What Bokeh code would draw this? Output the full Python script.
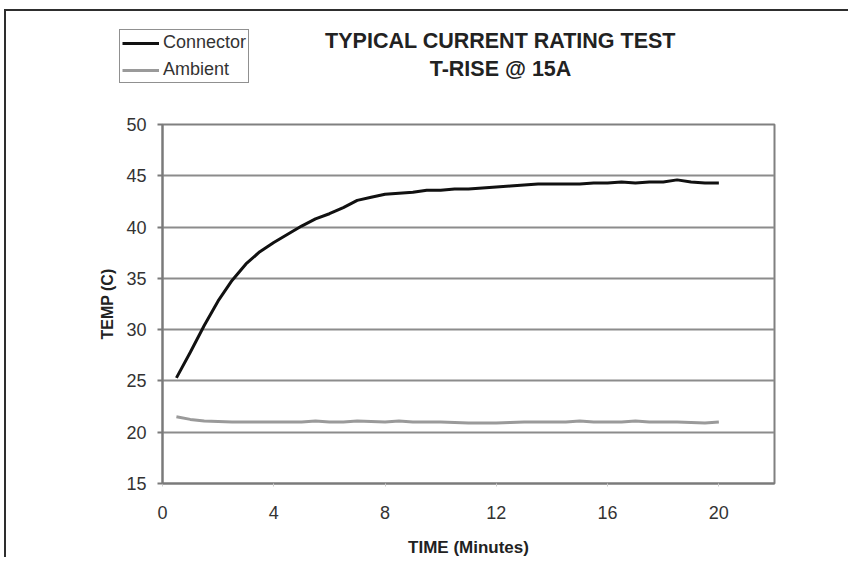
from bokeh.plotting import figure
from bokeh.layouts import column, row
from bokeh.models import FixedTicker, Legend, LegendItem, Label
from bokeh.embed import file_html
from bokeh.resources import INLINE

time_min = [0.5, 1.0, 1.5, 2.0, 2.5, 3.0, 3.5, 4.0, 4.5, 5.0,
            5.5, 6.0, 6.5, 7.0, 7.5, 8.0, 8.5, 9.0, 9.5, 10.0,
            10.5, 11.0, 11.5, 12.0, 12.5, 13.0, 13.5, 14.0, 14.5, 15.0,
            15.5, 16.0, 16.5, 17.0, 17.5, 18.0, 18.5, 19.0, 19.5, 20.0]

connector = [25.3, 27.8, 30.4, 32.8, 34.8, 36.4, 37.6, 38.5, 39.3, 40.1,
             40.8, 41.3, 41.9, 42.6, 42.9, 43.2, 43.3, 43.4, 43.6, 43.6,
             43.7, 43.7, 43.8, 43.9, 44.0, 44.1, 44.2, 44.2, 44.2, 44.2,
             44.3, 44.3, 44.4, 44.3, 44.4, 44.4, 44.6, 44.4, 44.3, 44.3]

ambient = [21.5, 21.25, 21.1, 21.05, 21.0, 21.0, 21.0, 21.0, 21.0, 21.0,
           21.1, 21.0, 21.0, 21.1, 21.05, 21.0, 21.1, 21.0, 21.0, 21.0,
           20.95, 20.9, 20.9, 20.9, 20.95, 21.0, 21.0, 21.0, 21.0, 21.1,
           21.0, 21.0, 21.0, 21.1, 21.0, 21.0, 21.0, 20.95, 20.9, 21.0]

series_names = ["Connector", "Ambient"]
series_colors = ["#111111", "#9a9a9a"]

x_ticks = [0, 4, 8, 12, 16, 20]
y_ticks = [15, 20, 25, 30, 35, 40, 45, 50]

title_line1 = "TYPICAL CURRENT RATING TEST"
title_line2 = "T-RISE @ 15A"

FONT = "Liberation Sans"
W = 844
NAN = float("nan")

# ---------------- header (legend + title), frame = whole header ----------------
head = figure(width=W, height=100, output_backend="svg", toolbar_location=None,
              title=None, x_range=(0, W), y_range=(0, 100),
              x_axis_location=None, y_axis_location=None,
              min_border=0, min_border_left=0, min_border_right=0,
              min_border_top=0, min_border_bottom=0,
              background_fill_color="white", border_fill_color="white")
head.outline_line_color = None
head.xgrid.visible = False
head.ygrid.visible = False

# legend keys only (nothing visible is drawn by them)
keys = [head.line(x=[NAN], y=[NAN], line_color=c, line_width=3) for c in series_colors]
legend = Legend(items=[LegendItem(label=n, renderers=[r]) for n, r in zip(series_names, keys)],
                location=(113, 28), orientation="vertical",
                padding=2, spacing=6, margin=0,
                glyph_width=37, glyph_height=20, label_height=20,
                label_standoff=4,
                label_text_font=FONT, label_text_font_size="18px",
                label_text_color="#333333",
                border_line_color="#222222", border_line_width=1.5,
                background_fill_color="white", background_fill_alpha=1.0)
head.add_layout(legend)

for txt, yy in ((title_line1, 70.5), (title_line2, 42.5)):
    head.add_layout(Label(x=494, y=yy, text=txt, text_align="center",
                          text_baseline="middle", text_font=FONT,
                          text_font_style="bold", text_font_size="21.5px",
                          text_color="#222222"))

# ---------------- main chart ----------------
p = figure(width=W, height=448, output_backend="svg", toolbar_location=None,
           title=None, x_range=(0, 22), y_range=(15, 50),
           min_border_left=156, min_border_right=W - 156 - 612,
           min_border_top=13, min_border_bottom=70,
           background_fill_color="white", border_fill_color="white")

p.line(time_min, connector, line_color=series_colors[0], line_width=3)
p.line(time_min, ambient, line_color=series_colors[1], line_width=3)

p.outline_line_color = "#808080"
p.outline_line_width = 2

p.xgrid.visible = False
p.ygrid.ticker = FixedTicker(ticks=y_ticks)
p.ygrid.grid_line_color = "#8c8c8c"
p.ygrid.grid_line_width = 2

for ax, ticks in ((p.xaxis[0], x_ticks), (p.yaxis[0], y_ticks)):
    ax.ticker = FixedTicker(ticks=ticks)
    ax.minor_tick_line_color = None
    ax.major_tick_in = 0
    ax.major_label_text_font = FONT
    ax.major_label_text_font_size = "18px"
    ax.major_label_text_color = "#333333"
    ax.axis_line_color = "#7a7a7a"
    ax.axis_line_width = 2
    ax.axis_label_text_font = FONT
    ax.axis_label_text_font_style = "bold"
    ax.axis_label_text_color = "#222222"

p.xaxis.major_tick_out = 3
p.xaxis.major_tick_line_color = "#cccccc"
p.xaxis.major_label_standoff = 19
p.xaxis.axis_label = "TIME (Minutes)"
p.xaxis.axis_label_text_font_size = "17px"
p.xaxis.axis_label_standoff = 16

p.yaxis.major_tick_out = 5
p.yaxis.major_tick_line_color = "#7a7a7a"
p.yaxis.major_tick_line_width = 2
p.yaxis.major_label_standoff = 11
p.yaxis.axis_label = "TEMP (C)"
p.yaxis.axis_label_text_font_size = "16px"
p.yaxis.axis_label_standoff = 7

layout = column(row(head), p, spacing=0)
layout.margin = (11, 0, 0, 6)
layout.styles = {"box-shadow": "-2px -2px 0 0 #2e2e2e"}

open("out.html", "w").write(file_html(layout, INLINE))
